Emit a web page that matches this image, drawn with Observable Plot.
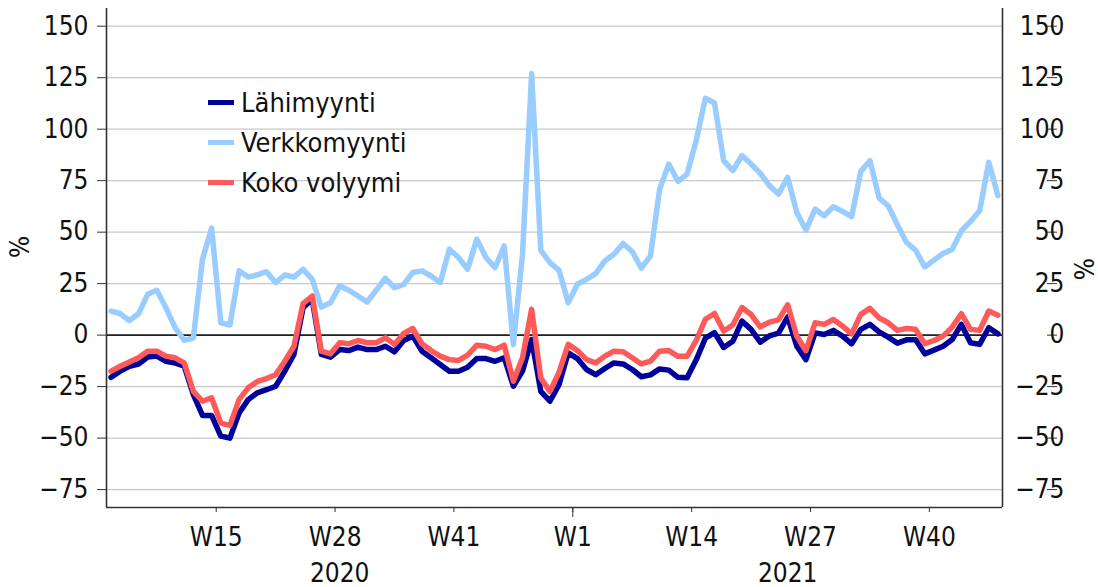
<!DOCTYPE html>
<html><head><meta charset="utf-8">
<script src="https://cdn.jsdelivr.net/npm/d3@7"></script>
<script src="https://cdn.jsdelivr.net/npm/@observablehq/plot@0.6"></script>
<style>
body{margin:0;background:#fff;}
#wrap{position:relative;width:1098px;height:587px;font-family:"DejaVu Sans Condensed","DejaVu Sans",sans-serif;}
#legend{position:absolute;left:208px;top:82px;font-size:27px;color:#111;}
.item{display:flex;align-items:center;height:40px;}
.sw{width:26px;height:5px;margin-right:7px;}
</style></head><body>
<div id="wrap"><div id="chart"></div><div id="legend"></div></div>
<script>
// Categories: ISO weeks 2020-W03 ... 2021-W47
const years = ["2020", "2021"];
const weeksPerYear = {"2020": [3, 53], "2021": [1, 47]};
const weeks = [];
for (const y of years) { const [a, b] = weeksPerYear[y]; for (let w = a; w <= b; w++) weeks.push({year: y, week: "W" + w}); }

const tickWeeks = [["2020","W15"],["2020","W28"],["2020","W41"],["2021","W1"],["2021","W14"],["2021","W27"],["2021","W40"]];

const seriesNames = ["Lähimyynti", "Verkkomyynti", "Koko volyymi"];
const seriesColors = ["#00009a", "#99ccff", "#ff5a5a"];

const lahimyynti = [-20.5,-17.5,-15.1,-14,-10.6,-10.2,-12.7,-13.5,-15.1,-28.9,-39,-39,-49,-50,-37.8,-31.3,-28,-26.5,-24.8,-17.5,
-9.4,13.3,17.4,-9.4,-10.7,-7,-7.5,-5.8,-7,-7,-5.4,-8.1,-2.6,-0.5,-7.8,-11,-14.3,-17.5,-17.5,-15.6,
-11.4,-11.4,-12.7,-11,-24.8,-17.5,-2.1,-27.3,-32.1,-24,-8.6,-11.4,-16.7,-19.2,-16.2,-13.5,-14,-16.7,-20.2,-19.3,
-16.4,-17,-20.5,-20.7,-12,-1.5,1.2,-6,-3,6.8,2.8,-3.4,-0.4,1,8.8,-5.4,-11.9,1.1,0.3,2.3,
-0.5,-4.2,2.8,5.2,1.6,-1,-3.9,-2.3,-2.3,-9.1,-7.3,-5.4,-2.1,5.2,-3.7,-4.5,3.6,0.6];

const verkkomyynti = [11.7,10.4,7.1,10.4,19.8,21.8,13.3,3.6,-2.6,-1.3,36.9,52,6,4.9,31.2,28.2,29.3,30.8,25.5,29.2,
28.2,32,27.1,13.6,15.7,23.9,21.8,19,16.1,21.8,27.6,23,24.6,30.4,31.2,28.7,25.5,41.7,37.7,32,
46.6,37.7,32.8,43.3,-4.5,39.3,127,41.2,35.2,31.4,15.7,24.7,27.1,29.9,36,39.3,44.5,40.6,32.5,38.5,
70.9,83.1,74.7,78.2,94.5,115,112.7,84.7,79.9,87.2,83.1,78.6,72.6,68.5,76.6,59.6,51,61.2,58,62.3,
60.1,57.5,79.5,84.7,66.6,62.8,53.6,45,41.2,33.1,36.4,39.6,41.7,50.6,55.2,60.4,83.9,67.7];

const kokoVolyymi = [-17.5,-15.1,-13,-11,-7.8,-7.8,-10.2,-11,-13.5,-27.3,-32.1,-30.5,-42.7,-43.8,-31.3,-25.6,-22.5,-21.1,-19.2,-12.7,
-5.4,15.3,19,-7.8,-9.1,-3.7,-4.2,-2.6,-3.7,-3.7,-1.3,-4.5,0.8,3.2,-4.2,-7.5,-10.2,-11.9,-12.3,-9.7,
-4.9,-5.4,-7,-4.9,-22.4,-11,12.5,-20.8,-27.3,-18,-4.5,-7.5,-11.9,-13.5,-10.2,-7.8,-8.1,-11,-14,-12.6,
-7.8,-7.5,-10.3,-10.3,-2.6,7.7,10.5,2,4.9,13.4,10,4,6.3,7.4,14.7,-0.5,-7.5,6,5.2,7.6,
4.4,0.6,10.1,13,8.4,6,2.3,3.2,2.8,-4.2,-2.6,-0.5,3.9,10.4,2.8,2.3,11.7,9.7];

const yTicks = [-75, -50, -25, 0, 25, 50, 75, 100, 125, 150];
const yDomain = [-83.7, 158.6];

const seriesValues = [lahimyynti, verkkomyynti, kokoVolyymi];
const rows = seriesNames.map((name, k) => seriesValues[k].map((v, i) => ({i, v, s: name})));

// tick positions: boundary at left edge of the labelled week's category
const tickPos = tickWeeks.map(([y, w]) => weeks.findIndex(d => d.year === y && d.week === w) - 0.5);
const tickLab = new Map(tickPos.map((p, k) => [p, tickWeeks[k][1]]));
const yearBreak = tickPos[3];
const yearCenters = years.map(y => {
  const idx = weeks.map((d, i) => d.year === y ? i : null).filter(d => d !== null);
  return (idx[0] - 0.5 + idx[idx.length - 1] + 0.5) / 2;
});
const yearLab = new Map(yearCenters.map((c, k) => [c, years[k]]));
const xDomain = [-0.5, weeks.length - 0.5];

const font = '"DejaVu Sans Condensed","DejaVu Sans",sans-serif';
const chart = Plot.plot({
  width: 1098, height: 587,
  marginLeft: 106, marginRight: 96, marginTop: 8, marginBottom: 80,
  x: {type: "linear", domain: xDomain},
  y: {domain: yDomain},
  style: {fontFamily: font, fontSize: "26px", color: "#111", background: "#fff", overflow: "visible"},
  marks: [
    Plot.gridY(yTicks, {stroke: "#c8c8c8", strokeOpacity: 1, strokeWidth: 1.2}),
    Plot.ruleY([0], {stroke: "#222", strokeWidth: 1.6}),
    Plot.ruleX([xDomain[0], xDomain[1]], {stroke: "#333", strokeWidth: 1.6}),
    Plot.ruleY([yDomain[0]], {stroke: "#333", strokeWidth: 1.6}),
    Plot.line(rows[1], {x: "i", y: "v", stroke: seriesColors[1], strokeWidth: 5.5}),
    Plot.line(rows[0], {x: "i", y: "v", stroke: seriesColors[0], strokeWidth: 5.5}),
    Plot.line(rows[2], {x: "i", y: "v", stroke: seriesColors[2], strokeWidth: 5.5}),
    Plot.axisY(yTicks, {anchor: "left", tickSize: 9, tickPadding: 9, stroke: "#333", label: null}),
    Plot.axisY(yTicks, {anchor: "right", tickSize: 10, tickPadding: 8, textAnchor: "end", dx: 44, stroke: "#333", label: null}),
    Plot.axisX(tickPos, {anchor: "bottom", tickSize: 5, tickPadding: 15, stroke: "#333", tickFormat: d => tickLab.get(d), label: null}),
    Plot.axisX([yearBreak], {anchor: "bottom", tickSize: 10, stroke: "#333", tickFormat: () => "", label: null}),
    Plot.axisX(yearCenters, {anchor: "bottom", tickSize: 0, tickPadding: 56, tickFormat: d => yearLab.get(d), label: null}),
    Plot.text(["%"], {frameAnchor: "left", text: d => d, rotate: -90, dx: -86, fontSize: 26}),
    Plot.text(["%"], {frameAnchor: "right", text: d => d, rotate: -90, dx: 83, fontSize: 26})
  ]
});
document.getElementById("chart").appendChild(chart);

const legend = document.getElementById("legend");
seriesNames.forEach((n, k) => {
  const it = document.createElement("div"); it.className = "item";
  const sw = document.createElement("span"); sw.className = "sw"; sw.style.background = seriesColors[k];
  const tx = document.createElement("span"); tx.textContent = n;
  it.appendChild(sw); it.appendChild(tx); legend.appendChild(it);
});
</script></body></html>
